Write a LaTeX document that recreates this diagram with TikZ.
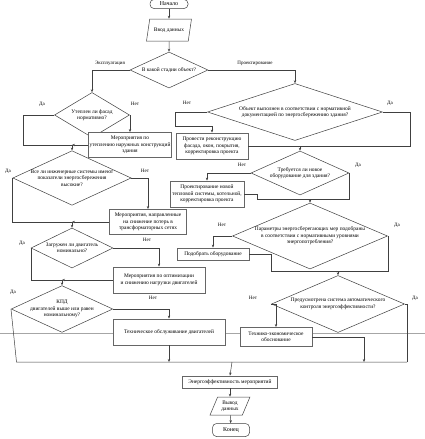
\documentclass[tikz,border=0pt]{standalone}
\usepackage{fontspec}
\setmainfont{Liberation Serif}
\usetikzlibrary{shapes.geometric,arrows.meta}
\begin{document}
\begin{tikzpicture}[x=1pt,y=-1pt,
  every node/.style={font=\fontsize{5.4}{6.4}\selectfont, align=center, inner sep=1pt},
  dia/.style={diamond, draw=black!75, fill=white, line width=0.5pt, inner sep=0pt},
  pbox/.style={rectangle, draw=black!60, fill=white, line width=0.9pt, inner sep=1pt},
  term/.style={rectangle, rounded corners=4pt, draw=black!75, fill=white, line width=0.5pt, inner sep=0.5pt, font=\fontsize{6}{7}\selectfont},
  io/.style={trapezium, trapezium left angle=65, trapezium right angle=115, trapezium stretches=true, draw=black!75, fill=white, line width=0.5pt, inner sep=0.5pt},
  conn/.style={draw=black!75, line width=0.5pt},
  arr/.style={conn, -{Stealth[length=3pt,width=2.4pt]}},
  lab/.style={font=\fontsize{5}{6}\selectfont, inner sep=0pt}
]
\useasboundingbox[fill=white] (0,0) rectangle (425,439);
\coordinate (gl) at (0,333);
\coordinate (gr) at (425,333);
\draw[black!35, line width=0.5pt] (gl) -- (gr);

% top
\node[term, minimum width=38pt, minimum height=9pt] (start) at (169,4) {Начало};
\node[io, minimum width=45pt, minimum height=22pt] (in) at (169,30) {Ввод данных};
\node[dia, aspect=2.17, minimum width=78pt, minimum height=36pt] (d0) at (169,70) {В какой стадии объект?};

% left branch
\node[dia, aspect=1.67, minimum width=75pt, minimum height=45pt] (dL1) at (92,115) {Утеплен ли фасад\\нормативно?};
\node[pbox, minimum width=75pt, minimum height=25pt] (bL1) at (130,145) {Мероприятия по\\утеплению наружных конструкций\\здания};
\node[dia, aspect=2.17, minimum width=113pt, minimum height=52pt] (dL2) at (72,178) {Все ли инженерные системы имеют\\показатели энергосбережения\\высокие?};
\node[pbox, minimum width=77pt, minimum height=25pt] (bL2) at (148,222) {Мероприятия, направленные\\на снижение потерь в\\трансформаторных сетях};
\node[dia, aspect=2.05, minimum width=82pt, minimum height=40pt] (dL3) at (72,248) {Загружен ли двигатель\\номинально?};
\node[pbox, minimum width=92pt, minimum height=26pt] (bL3) at (159,280) {Мероприятия по оптимизации\\и снижению нагрузки двигателей};
\node[dia, aspect=2.17, minimum width=91pt, minimum height=42pt] (dL4) at (62,309) {КПД\\двигателей выше или равен\\номинальному?};
\node[pbox, minimum width=112pt, minimum height=26pt] (bL4) at (169,332) {Техническое обслуживание двигателей};

% right branch
\node[dia, aspect=3.07, minimum width=175pt, minimum height=57pt] (dR1) at (295,112) {Объект выполнен в соответствии с нормативной\\документацией по энергосбережению здания?};
\node[pbox, minimum width=72pt, minimum height=26pt] (bR1) at (212,146) {Провести реконструкцию\\фасада, окон, покрытия,\\корректировка проекта};
\node[dia, aspect=2.23, minimum width=98pt, minimum height=44pt] (dR2) at (300,173) {Требуется ли новое\\оборудование для здания?};
\node[pbox, minimum width=74pt, minimum height=26pt] (bR2) at (207,194) {Проектирование новой\\тепловой системы, котельной,\\корректировка проекта};
\node[dia, aspect=2.35, minimum width=155pt, minimum height=66pt] (dR3) at (310,236) {Параметры энергосберегающих мер подобраны\\в соответствии с нормативными уровнями\\энергопотребления?};
\node[pbox, minimum width=72pt, minimum height=12pt] (bR3) at (213,254) {Подобрать оборудование};
\node[dia, aspect=2.33, minimum width=133pt, minimum height=57pt] (dR4) at (338,304) {Предусмотрена система автоматического\\контроля энергоэффективности?};
\node[pbox, minimum width=72pt, minimum height=19pt] (bR4) at (276,337) {Технико-экономическое\\обоснование};

% bottom
\node[pbox, minimum width=95pt, minimum height=12pt] (bE) at (230,382) {Энергоэффективность мероприятий};
\node[io, minimum width=40pt, minimum height=18pt] (out) at (230,406) {Вывод\\данных};
\node[term, minimum width=37pt, minimum height=13pt] (end) at (231,430) {Конец};

% junctions
\coordinate (jL1) at (72,145);
\coordinate (jL2) at (72,222);
\coordinate (jL3) at (62,280);
\coordinate (jR1) at (300,146);
\coordinate (jR2) at (310,199);
\coordinate (jR3) at (338,271);
\coordinate (busL) at (16.5,362);
\coordinate (busR) at (407,362);
\coordinate (busB) at (232,362);
\coordinate (busM) at (364,362);

% connectors top
\draw[arr] (start) -- (in);
\draw[arr] (in) -- (d0);
\draw[arr] (d0.west) -| (dL1.north);
\draw[arr] (d0.east) -| (dR1.north);

% left connectors
\draw[conn] (dL1.west) -- ++(-31,0) |- (jL1);
\draw[arr] (dL1.east) -| (bL1.north);
\draw[arr] (bL1.west) -- (jL1);
\draw[arr] (jL1) -- (dL2.north);
\draw[conn] (dL2.west) |- (jL2);
\draw[arr] (dL2.east) -| (bL2.north);
\draw[arr] (bL2.west) -- (jL2);
\draw[arr] (jL2) -- (dL3.north);
\draw[conn] (dL3.west) |- (jL3);
\draw[arr] (dL3.east) -| (bL3.north);
\draw[arr] (bL3.west) -- (jL3);
\draw[arr] (jL3) -- (dL4.north);
\draw[conn] (dL4.west) -- (busL) -- (busR);
\draw[arr] (dL4.east) -| (bL4.north);
\draw[arr] (bL4.south) -- (bL4.south |- busL);

% right connectors
\draw[arr] (dR1.west) -- ++(-32.5,0) -- ++(0,14) -| (bR1.north);
\draw[conn] (dR1.east) -- ++(27,0) |- (jR1);
\draw[conn] (bR1.east) -- (jR1);
\draw[arr] (jR1) -- (dR2.north);
\draw[arr] (dR2.west) -| (bR2.north);
\draw[conn] (dR2.east) |- (jR2);
\draw[conn] (bR2.east) -- ++(13,0) |- (jR2);
\draw[arr] (jR2) -- (dR3.north);
\draw[arr] (dR3.west) -| (bR3.north);
\draw[conn] (dR3.east) |- (jR3);
\draw[conn] (bR3.east) -- ++(22,0) |- (jR3);
\draw[arr] (jR3) -- (dR4.north);
\draw[arr] (dR4.west) -| (bR4.north);
\draw[conn] (dR4.east) -| (busR);
\draw[arr] (bR4.east) -| (busM);

% bottom connectors
\draw[arr] (busB) -- (bE.north);
\draw[arr] (bE) -- (out);
\draw[arr] (out) -- (end);

% labels
\node[lab] (t1) at (110,63) {Эксплуатация};
\node[lab] (t2) at (255,63) {Проектирование};
\node[lab] (a1) at (42,104) {Да};
\node[lab] (a2) at (135,104) {Нет};
\node[lab] (a3) at (8,171) {Да};
\node[lab] (a4) at (145,171) {Нет};
\node[lab] (a5) at (22,243) {Да};
\node[lab] (a6) at (147,240) {Нет};
\node[lab] (a7) at (13,292) {Да};
\node[lab] (a8) at (153,298) {Нет};
\node[lab] (b1) at (187,103) {Нет};
\node[lab] (b2) at (390,103) {Да};
\node[lab] (b3) at (242,165) {Нет};
\node[lab] (b4) at (358,165) {Да};
\node[lab] (b5) at (222,225) {Нет};
\node[lab] (b6) at (397,225) {Да};
\node[lab] (b7) at (253,298) {Нет};
\node[lab] (b8) at (415,298) {Да};
\end{tikzpicture}
\end{document}
